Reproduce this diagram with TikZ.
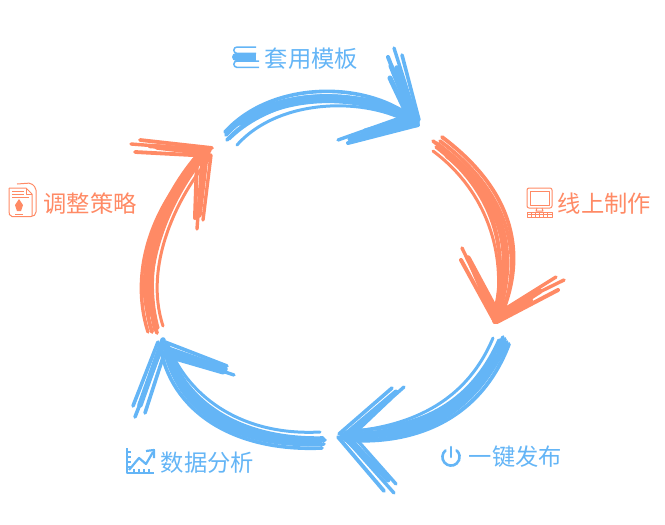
\documentclass[tikz,border=0pt]{standalone}
\usepackage{fontspec}
\newfontfamily\cjk{Noto Sans CJK SC}
\definecolor{skyb}{HTML}{64B5F6}
\definecolor{coral}{HTML}{FF8A65}
\tikzset{
  brush/.style={line cap=round,line join=round},
  label/.style={inner sep=0pt,font=\cjk\fontsize{23.3}{23.3}\selectfont},
  thin icon/.style={line width=1pt,line join=round},
}
% one curved brush stroke per list entry: start, two controls, end, width
\newcommand{\shaft}[1]{%
  \foreach \ax/\ay/\bx/\by/\cx/\cy/\dx/\dy/\w in {#1}
    \draw[brush,line width=\w pt] (\ax,\ay) .. controls (\bx,\by) and (\cx,\cy) .. (\dx,\dy);}
% one straight brush stroke per list entry: start, end, width
\newcommand{\barbs}[1]{%
  \foreach \ax/\ay/\dx/\dy/\w in {#1}
    \draw[brush,line width=\w pt] (\ax,\ay) -- (\dx,\dy);}
\begin{document}
\begin{tikzpicture}[x=1pt,y=-1pt]
\useasboundingbox (0,0) rectangle (665,525);

% top arrow
\begin{scope}[color=skyb]
\shaft{240/122/280/92/368/88/412/122/7.5, 225/132/272/80/368/80/415/120/3.6, 226/135/272/84/368/86/418/124/3.8, 227/140/272/90/368/92/416/126/3.6, 237/145/280/97/368/97/412/124/3, 226/134/272/87/368/90/410/122/3.4, 229/139/275/93/368/84/414/118/3.4}
\barbs{394/48/418/124/3.4, 388/57/414/124/4, 402/55/419/120/3.6, 391/66/412/118/5, 397/68/417/122/5.5, 390/78/408/116/5}
\barbs{338/140/400/118/3.4, 348/143/418/125/4, 350/139/410/122/5, 358/139/415/121/6, 365/131/412/118/5}
\end{scope}

% right arrow
\begin{scope}[color=coral]
\shaft{448/155/500/195/518/250/497/312/7.5, 433/141/497/190/510/250/494/322/3.6, 442/137/510/188/530/250/500/318/3.8, 433/151/488/192/506/255/496/312/3, 436/143/502/190/520/250/497/320/3.8, 440/141/507/190/525/255/502/312/3.6, 436/147/492/190/512/250/493/318/3.4, 438/144/500/195/516/240/498/316/3.4}
\barbs{462/248/496/318/3.4, 461/260/495/322/4, 468/258/497/312/5.5, 472/266/494/318/5.5}
\barbs{556/277/500/312/3.4, 564/280/503/310/3.4, 558/290/497/322/4, 540/291/495/320/5.5, 530/300/500/318/6}
\end{scope}

% lower right arrow
\begin{scope}[color=skyb]
\shaft{495/358/470/415/400/437/352/435/7.5, 493/338/462/412/395/428/345/432/3, 503/337/468/416/400/434/342/435/3.6, 509/344/478/426/405/445/345/440/3.8, 505/339/472/422/400/440/350/436/3.8, 507/342/470/428/395/446/340/438/3.6, 499/340/465/416/405/428/350/431/3.4}
\barbs{392/388/339/434/3.6, 404/387/355/430/3.4, 396/392/345/435/5, 390/398/350/436/5.5}
\barbs{396/484/350/432/3.4, 384/491/338/437/3.8, 394/493/345/438/3.4, 388/480/345/434/5, 380/470/342/435/5.5}
\end{scope}

% lower left arrow
\begin{scope}[color=skyb]
\shaft{305/441/240/443/180/405/167/352/7.5, 320/432/245/436/190/400/168/345/3, 325/440/240/443/182/405/165/345/3.6, 322/448/232/452/170/410/160/345/3.6, 323/438/238/440/184/400/170/350/3.6, 324/444/236/449/178/412/165/350/3.6, 321/442/245/446/176/400/172/355/3.2}
\barbs{133/406/158/342/3.6, 135/417/163/345/3.6, 145/413/167/345/3.6, 140/405/163/340/5.5}
\barbs{227/366/165/342/3.6, 234/375/175/355/3.4, 223/372/168/356/5, 225/369/165/348/5.5}
\end{scope}

% left arrow
\begin{scope}[color=coral]
\shaft{150/313/135/262/170/190/203/156/7.5, 148/332/126/262/162/190/205/155/3.4, 157/333/134/262/170/190/208/152/3.8, 163/326/143/265/178/195/210/158/3, 152/332/130/260/166/188/204/148/3.8, 155/330/138/262/176/188/210/150/3.6, 158/328/140/262/168/195/200/158/3.2}
\barbs{131/144/210/150/3.4, 140/140/212/148/3.8, 135/152/210/156/3.8, 157/147/208/153/5.5, 150/146/206/150/4.5}
\barbs{197/229/202/160/3.4, 195/218/197/160/4, 203/220/211/155/3.4, 199/215/206/155/5.5}
\end{scope}

% captions
\node[label,text=skyb,anchor=west] (topic) at (264.5,58.5) {套用模板};
\node[label,text=coral,anchor=west] (make) at (557.5,203.5) {线上制作};
\node[label,text=skyb,anchor=west] (publish) at (468.5,456.5) {一键发布};
\node[label,text=skyb,anchor=west] (analyse) at (160.5,462.5) {数据分析};
\node[label,text=coral,anchor=west] (adjust) at (43.5,203.5) {调整策略};

% books
\begin{scope}[draw=skyb,line width=1.5pt,line join=round]
\draw (256,47) -- (237,47) arc (270:90:3.2) -- (256,53.4);
\fill[skyb] (236,53) rectangle (256,61);
\fill[skyb] (236,53) arc (270:90:4) -- cycle;
\draw (259,61) -- (237,61) arc (270:90:3.2) -- (259,67.4);
\end{scope}

% computer
\begin{scope}[draw=coral,thin icon]
\draw[rounded corners=2pt] (527,188) rectangle (552,208);
\draw (530,191) rectangle (549,205);
\draw (537,208) -- (536,211) -- (543,211) -- (542,208);
\draw (527,212) rectangle (552,217);
\foreach \x in {531,535,539,543,547} \draw[line width=.7pt] (\x,212) -- (\x,217);
\draw[line width=.7pt] (527,214.5) -- (552,214.5);
\end{scope}

% power button
\begin{scope}[draw=skyb,line width=2.6pt,line cap=round]
\draw (445.5,450.4) arc (230:-50:8.6);
\draw (451,447) -- (451,457);
\end{scope}

% chart
\begin{scope}[draw=skyb,line width=2pt,line join=round]
\draw (127,448) -- (127,473) -- (154,473);
\foreach \y in {452,457,462,467} \draw[line width=1.8pt] (127,\y) -- (131,\y);
\foreach \x in {134,139,144,149} \draw[line width=1.8pt] (\x,473) -- (\x,469);
\draw[line width=2.2pt] (129,470) -- (139,458) -- (146,464) -- (153,452);
\draw[line width=2.2pt] (146,451) -- (154,450) -- (154,458);
\end{scope}

% document stack
\begin{scope}[draw=coral,thin icon]
\draw[rounded corners=2pt] (17,184) -- (31,183) -- (36,188) -- (36,214) -- (33,216.5) -- (10,216.5) -- (9,213) -- (9,188);
\draw (9,188) -- (26,188) -- (32,194) -- (32,216);
\draw (26,188) -- (26,194) -- (32,194);
\draw (12,191) -- (24,191) (12,194) -- (24,194) (12,197) -- (29,197);
\fill[coral] (19,199) -- (23,205) -- (21,211) -- (17,211) -- (15,205) -- cycle;
\draw (15,214) -- (23,214);
\end{scope}
\end{tikzpicture}
\end{document}
